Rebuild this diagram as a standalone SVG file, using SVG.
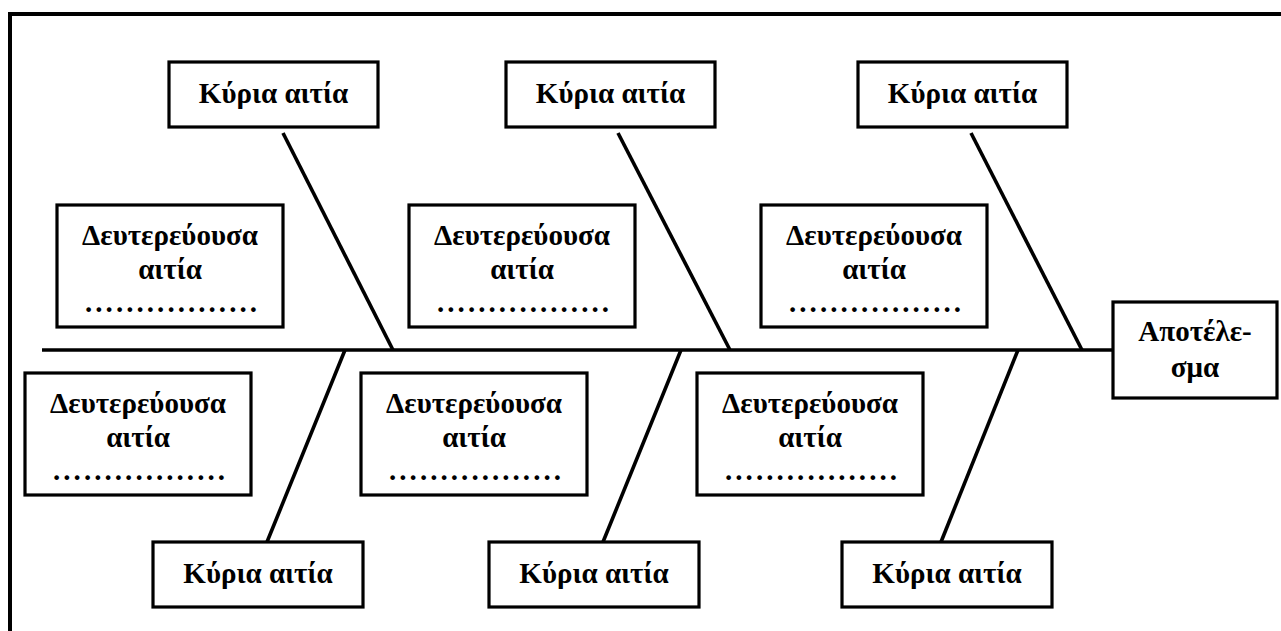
<svg xmlns="http://www.w3.org/2000/svg" width="1281" height="631" viewBox="0 0 1281 631">
  <style>
    .box { fill: #fff; stroke: #000; stroke-width: 3.2; }
    .t { font-family: "Liberation Serif", "Times New Roman", serif; font-weight: bold; font-size: 29px; fill: #000; text-anchor: middle; }
    .bone { stroke: #000; stroke-width: 3.6; fill: none; }
    .frame { stroke: #000; stroke-width: 4; fill: none; }
  </style>
  <rect width="1281" height="631" fill="#fff"/>
  <path class="frame" d="M10,631 V14 H1281"/>

  <g id="connectors">
    <line class="bone" x1="42" y1="350" x2="1113" y2="350"/>
    <line class="bone" x1="283" y1="133" x2="393" y2="350"/>
    <line class="bone" x1="618" y1="133" x2="730" y2="350"/>
    <line class="bone" x1="971" y1="133" x2="1082" y2="350"/>
    <line class="bone" x1="345" y1="350" x2="267" y2="542"/>
    <line class="bone" x1="681" y1="350" x2="603" y2="542"/>
    <line class="bone" x1="1018" y1="350" x2="941" y2="542"/>
  </g>

  <g id="main-cause-top-1">
    <rect class="box" x="169" y="62" width="209" height="65"/>
    <text class="t" x="273.5" y="103">Κύρια αιτία</text>
  </g>
  <g id="main-cause-top-2">
    <rect class="box" x="506" y="62" width="209" height="65"/>
    <text class="t" x="610.5" y="103">Κύρια αιτία</text>
  </g>
  <g id="main-cause-top-3">
    <rect class="box" x="858" y="62" width="209" height="65"/>
    <text class="t" x="962.5" y="103">Κύρια αιτία</text>
  </g>

  <g id="secondary-top-1">
    <rect class="box" x="57" y="205" width="226" height="122"/>
    <text class="t" x="170" y="245">Δευτερεύουσα</text>
    <text class="t" x="170" y="279">αιτία</text>
    <text class="t" x="171" y="312" textLength="172" lengthAdjust="spacing">.................</text>
  </g>
  <g id="secondary-top-2">
    <rect class="box" x="409" y="205" width="226" height="122"/>
    <text class="t" x="522" y="245">Δευτερεύουσα</text>
    <text class="t" x="522" y="279">αιτία</text>
    <text class="t" x="523" y="312" textLength="172" lengthAdjust="spacing">.................</text>
  </g>
  <g id="secondary-top-3">
    <rect class="box" x="761" y="205" width="226" height="122"/>
    <text class="t" x="874" y="245">Δευτερεύουσα</text>
    <text class="t" x="874" y="279">αιτία</text>
    <text class="t" x="875" y="312" textLength="172" lengthAdjust="spacing">.................</text>
  </g>

  <g id="secondary-bottom-1">
    <rect class="box" x="25" y="373" width="226" height="122"/>
    <text class="t" x="138" y="413">Δευτερεύουσα</text>
    <text class="t" x="138" y="447">αιτία</text>
    <text class="t" x="139" y="480" textLength="172" lengthAdjust="spacing">.................</text>
  </g>
  <g id="secondary-bottom-2">
    <rect class="box" x="361" y="373" width="226" height="122"/>
    <text class="t" x="474" y="413">Δευτερεύουσα</text>
    <text class="t" x="474" y="447">αιτία</text>
    <text class="t" x="475" y="480" textLength="172" lengthAdjust="spacing">.................</text>
  </g>
  <g id="secondary-bottom-3">
    <rect class="box" x="697" y="373" width="226" height="122"/>
    <text class="t" x="810" y="413">Δευτερεύουσα</text>
    <text class="t" x="810" y="447">αιτία</text>
    <text class="t" x="811" y="480" textLength="172" lengthAdjust="spacing">.................</text>
  </g>

  <g id="main-cause-bottom-1">
    <rect class="box" x="153" y="542" width="210" height="65"/>
    <text class="t" x="258" y="583">Κύρια αιτία</text>
  </g>
  <g id="main-cause-bottom-2">
    <rect class="box" x="489" y="542" width="210" height="65"/>
    <text class="t" x="594" y="583">Κύρια αιτία</text>
  </g>
  <g id="main-cause-bottom-3">
    <rect class="box" x="842" y="542" width="210" height="65"/>
    <text class="t" x="947" y="583">Κύρια αιτία</text>
  </g>

  <g id="effect">
    <rect class="box" x="1113" y="302" width="164" height="96"/>
    <text class="t" x="1195" y="341">Αποτέλε-</text>
    <text class="t" x="1195" y="377">σμα</text>
  </g>
</svg>
